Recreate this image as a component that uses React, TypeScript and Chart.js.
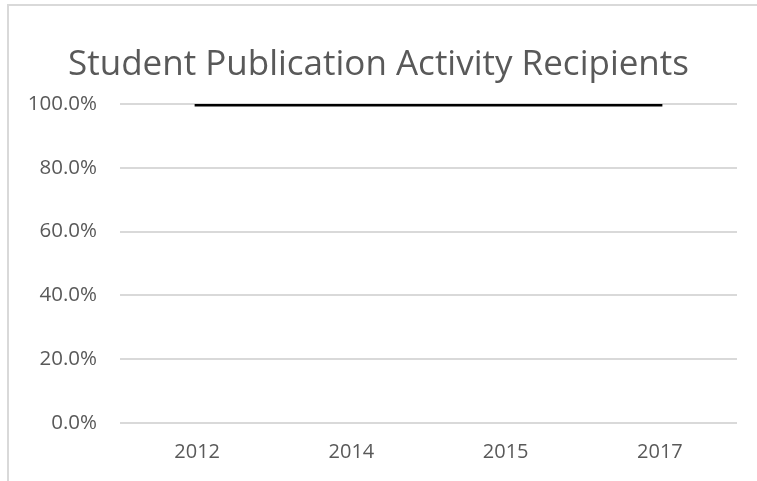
import React, { useEffect, useRef } from "react";
import { Chart, registerables } from "chart.js";

Chart.register(...registerables);

const title = "Student Publication Activity Recipients";
const categories = ["2012", "2014", "2015", "2017"];
const seriesValues = [1.0, 1.0, 1.0, 1.0];
const yTicks = [0, 0.2, 0.4, 0.6, 0.8, 1.0];

const FONT = "'Open Sans', sans-serif";
const TEXT = "#595959";
const GRID = "#d9d9d9";

export default function App() {
  const ref = useRef<HTMLCanvasElement | null>(null);

  useEffect(() => {
    document.body.style.margin = "0";
    const canvas = ref.current;
    if (!canvas) return;
    const chart = new Chart(canvas, {
      type: "line",
      data: {
        labels: categories,
        datasets: [
          {
            label: "Recipients",
            data: seriesValues,
            borderColor: "#000000",
            borderWidth: 5,
            borderCapStyle: "square",
            pointRadius: 0,
            fill: false,
          },
        ],
      },
      options: {
        responsive: false,
        animation: false,
        layout: { padding: { left: 20, right: 20, top: 0, bottom: 0 } },
        plugins: {
          legend: { display: false },
          tooltip: { enabled: false },
          title: {
            display: true,
            text: title,
            color: TEXT,
            font: { family: FONT, size: 35, weight: "normal", lineHeight: 1.2 },
            padding: { top: 44, bottom: 18 },
          },
        },
        scales: {
          x: {
            offset: true,
            grid: { display: false, drawTicks: false },
            border: { display: false },
            ticks: {
              color: TEXT,
              font: { family: FONT, size: 20 },
              padding: 17,
              maxRotation: 0,
            },
            afterFit: (s: any) => {
              s.height = 58;
            },
          },
          y: {
            min: 0,
            max: 1,
            afterBuildTicks: (s: any) => {
              s.ticks = yTicks.map((v) => ({ value: v }));
            },
            grid: { color: GRID, lineWidth: 2, drawTicks: false },
            border: { display: false },
            ticks: {
              color: TEXT,
              font: { family: FONT, size: 20.5 },
              padding: 23,
              callback: (v: any) => (Number(v) * 100).toFixed(1) + "%",
            },
            afterFit: (s: any) => {
              s.width = 100;
            },
          },
        },
      },
    });
    return () => chart.destroy();
  }, []);

  return (
    <div style={{ position: "relative", width: 757, height: 481, overflow: "hidden", background: "#fff" }}>
      <div
        style={{
          position: "absolute",
          left: 7,
          top: 4,
          width: 800,
          height: 600,
          borderTop: "2px solid " + GRID,
          borderLeft: "2px solid " + GRID,
        }}
      />
      <canvas ref={ref} width={757} height={481} style={{ position: "absolute", left: 0, top: 0 }} />
    </div>
  );
}
